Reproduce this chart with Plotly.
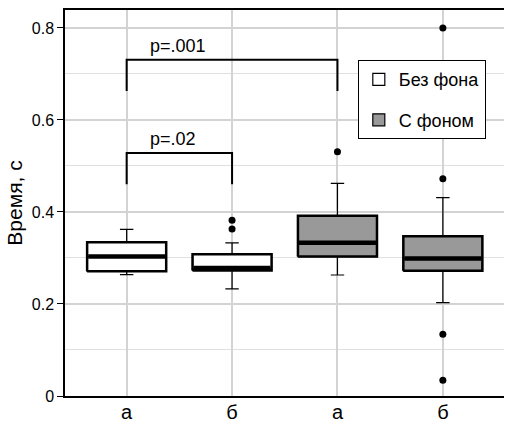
import plotly.graph_objects as go

# ---- data ----
tick_labels = ["а", "б", "а", "б"]
series_names = ["Без фона", "С фоном"]
positions = [0, 1, 2, 3]
group_of = [0, 0, 1, 1]

q1 = [0.271, 0.273, 0.303, 0.272]
median = [0.303, 0.278, 0.333, 0.299]
q3 = [0.334, 0.308, 0.392, 0.347]
lower_fence = [0.264, 0.233, 0.263, 0.203]
upper_fence = [0.362, 0.333, 0.462, 0.431]

outlier_x = [1, 1, 2, 3, 3, 3, 3]
outlier_y = [0.363, 0.382, 0.531, 0.800, 0.472, 0.134, 0.034]

bracket_x = [[0, 1], [0, 2]]
bracket_top = [0.528, 0.731]
bracket_bottom = [0.460, 0.663]
bracket_text = ["p=.02", "p=.001"]

fills = ["#ffffff", "#999999"]
BOX_W = 0.75

fig = go.Figure()

for g in range(2):
    idx = [i for i in range(4) if group_of[i] == g]
    fig.add_trace(go.Box(
        name=series_names[g],
        legendgroup=series_names[g],
        x=[positions[i] for i in idx],
        q1=[q1[i] for i in idx],
        median=[median[i] for i in idx],
        q3=[q3[i] for i in idx],
        lowerfence=[lower_fence[i] for i in idx],
        upperfence=[upper_fence[i] for i in idx],
        boxpoints=False,
        width=BOX_W,
        whiskerwidth=0.17,
        fillcolor=fills[g],
        line=dict(color="black", width=1.2),
        showlegend=True,
    ))

# thicker outlines and medians
for i in range(4):
    x0 = positions[i] - BOX_W / 2
    x1 = positions[i] + BOX_W / 2
    fig.add_trace(go.Scatter(
        x=[x0, x1, x1, x0, x0], y=[q1[i], q1[i], q3[i], q3[i], q1[i]],
        mode="lines", line=dict(color="black", width=2.5),
        showlegend=False, hoverinfo="skip"))
    fig.add_trace(go.Scatter(
        x=[x0 + 0.01, x1 - 0.01], y=[median[i], median[i]],
        mode="lines", line=dict(color="black", width=4.5),
        showlegend=False, hoverinfo="skip"))

fig.add_trace(go.Scatter(
    x=outlier_x, y=outlier_y, mode="markers",
    marker=dict(color="black", size=7), showlegend=False))

for k in range(2):
    xa, xb = bracket_x[k]
    fig.add_trace(go.Scatter(
        x=[xa, xa, xb, xb],
        y=[bracket_bottom[k], bracket_top[k], bracket_top[k], bracket_bottom[k]],
        mode="lines", line=dict(color="black", width=2),
        showlegend=False, hoverinfo="skip"))
    fig.add_annotation(x=xa + 0.2, y=bracket_top[k], text=bracket_text[k],
                       xanchor="left", yanchor="bottom", showarrow=False,
                       yshift=2, font=dict(size=18, color="black"))

fig.update_layout(
    width=506, height=422,
    margin=dict(l=65, r=2, t=10, b=26, autoexpand=False),
    plot_bgcolor="white", paper_bgcolor="white",
    font=dict(family="Liberation Sans, Arial, sans-serif", color="black"),
    legend=dict(x=0.667, y=0.870, xanchor="left", yanchor="top",
                bgcolor="white", bordercolor="black", borderwidth=1,
                font=dict(size=18), traceorder="grouped",
                tracegroupgap=14),
    xaxis=dict(
        range=[-0.585, 3.58], tickmode="array", tickvals=positions,
        ticktext=tick_labels, tickfont=dict(size=20),
        ticklabelstandoff=-3,
        showgrid=True, gridcolor="#d3d3d3", gridwidth=2,
        showline=True, linecolor="black", linewidth=1.5, mirror=True,
        ticks="", zeroline=False, automargin=False),
    yaxis=dict(
        range=[0, 0.839], tickmode="array",
        tickvals=[0, 0.2, 0.4, 0.6, 0.8], ticktext=["0", "0.2", "0.4", "0.6", "0.8"],
        tickfont=dict(size=16),
        title=dict(text="Время, с", font=dict(size=21), standoff=3),
        showgrid=True, gridcolor="#d3d3d3", gridwidth=2,
        minor=dict(tickvals=[0.1, 0.3, 0.5, 0.7], showgrid=True,
                   gridcolor="#e0e0e0", gridwidth=1, ticks=""),
        showline=True, linecolor="black", linewidth=1.5,
        ticks="outside", ticklen=6, tickcolor="black", zeroline=False,
        automargin=False),
)

# Remove the browser's default 8px body margin so the 506x422 figure fills the window.
fig.write_html("out.html",
               config={"displayModeBar": False},
               post_script="document.body.style.margin='0';"
                           "document.body.style.overflow='hidden';")
